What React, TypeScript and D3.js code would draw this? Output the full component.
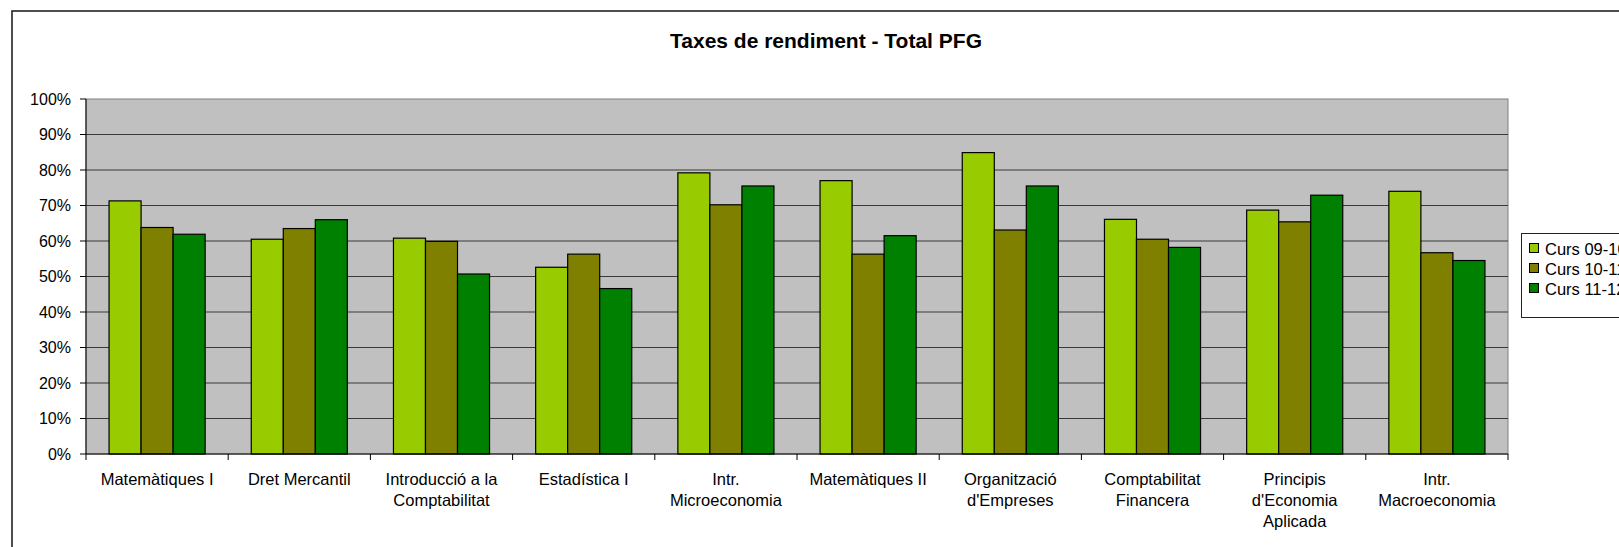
import React from 'react';
import * as d3 from 'd3';

const categories = [
  'Matemàtiques I',
  'Dret Mercantil',
  'Introducció a la\nComptabilitat',
  'Estadística I',
  'Intr.\nMicroeconomia',
  'Matemàtiques II',
  "Organització\nd'Empreses",
  'Comptabilitat\nFinancera',
  "Principis\nd'Economia\nAplicada",
  'Intr.\nMacroeconomia',
];

const seriesNames = ['Curs 09-10', 'Curs 10-11', 'Curs 11-12'];
const curs0910 = [71.3, 60.5, 60.8, 52.6, 79.2, 77.0, 84.9, 66.1, 68.7, 74.0];
const curs1011 = [63.8, 63.5, 59.9, 56.3, 70.2, 56.3, 63.1, 60.5, 65.4, 56.7];
const curs1112 = [61.9, 66.0, 50.7, 46.6, 75.5, 61.5, 75.5, 58.2, 72.9, 54.5];
const yTicks = [0, 10, 20, 30, 40, 50, 60, 70, 80, 90, 100];

const colors = ['#99CC00', '#808000', '#008000'];

export default function App() {
  const W = 1619;
  const H = 547;
  const plot = { left: 86, right: 1508, top: 99, bottom: 454 };
  const allSeries = [curs0910, curs1011, curs1112];

  const x = d3.scaleBand<string>()
    .domain(categories)
    .range([plot.left, plot.right])
    .paddingInner(0)
    .paddingOuter(0);
  const bw = x.bandwidth();
  // bars take 3 slots, the rest is gap split on both sides
  const barW = bw / 4.44;
  const gap = (bw - barW * 3) / 2;
  const xs = d3.scaleBand<number>()
    .domain([0, 1, 2])
    .range([gap, gap + barW * 3])
    .padding(0);
  const y = d3.scaleLinear().domain([0, 100]).range([plot.bottom, plot.top]);

  const font = 'Arial, "Liberation Sans", sans-serif';

  return (
    <svg width={W} height={H} style={{ position: 'absolute', left: 0, top: 0 }} fontFamily={font}>
      <rect x={0} y={0} width={W} height={H} fill='#fff' />
      {/* chart frame, clipped on right/bottom like the original screenshot */}
      <rect x={12} y={11} width={W + 20} height={H + 20} fill='none' stroke='#222' strokeWidth={1.6} />

      <text x={826} y={48} textAnchor='middle' fontSize={21} fontWeight='bold' fill='#000'>
        Taxes de rendiment - Total PFG
      </text>

      <rect x={plot.left} y={plot.top} width={plot.right - plot.left} height={plot.bottom - plot.top}
        fill='#C0C0C0' stroke='#808080' strokeWidth={1} />

      {yTicks.map((t) => (
        <g key={'yt' + t}>
          {t > 0 && t < 100 && (
            <line x1={plot.left} x2={plot.right} y1={y(t)} y2={y(t)} stroke='#3a3a3a' strokeWidth={1} />
          )}
          <line x1={plot.left - 6} x2={plot.left} y1={y(t)} y2={y(t)} stroke='#000' strokeWidth={1} />
          <text x={71} y={y(t) + 5.5} textAnchor='end' fontSize={16} fill='#000'>{t + '%'}</text>
        </g>
      ))}

      {allSeries.map((vals, s) =>
        vals.map((v, i) => (
          <rect key={s + '-' + i}
            x={(x(categories[i]) as number) + (xs(s) as number)}
            y={y(v)}
            width={xs.bandwidth()}
            height={plot.bottom - y(v)}
            fill={colors[s]} stroke='#000' strokeWidth={1.2} />
        ))
      )}

      <line x1={plot.left} x2={plot.left} y1={plot.top} y2={plot.bottom} stroke='#000' strokeWidth={1} />
      <line x1={plot.left} x2={plot.right} y1={plot.bottom} y2={plot.bottom} stroke='#000' strokeWidth={1.2} />
      {categories.concat(['']).map((c, i) => {
        const xx = plot.left + bw * i;
        return <line key={'xt' + i} x1={xx} x2={xx} y1={plot.bottom} y2={plot.bottom + 6} stroke='#000' strokeWidth={1} />;
      })}

      {categories.map((c) => {
        const cx = (x(c) as number) + bw / 2;
        return (
          <text key={c} x={cx} y={485} textAnchor='middle' fontSize={16.5} fill='#000'>
            {c.split('\n').map((line, k) => (
              <tspan key={k} x={cx} dy={k === 0 ? 0 : 21}>{line}</tspan>
            ))}
          </text>
        );
      })}

      <rect x={1521.5} y={233.5} width={140} height={84} fill='#fff' stroke='#222' strokeWidth={1} />
      {seriesNames.map((n, s) => (
        <g key={n}>
          <rect x={1529.5} y={243.5 + s * 20} width={9} height={9} fill={colors[s]} stroke='#000' strokeWidth={1} />
          <text x={1545} y={254.5 + s * 20} fontSize={16.5} fill='#000'>{n}</text>
        </g>
      ))}
    </svg>
  );
}
